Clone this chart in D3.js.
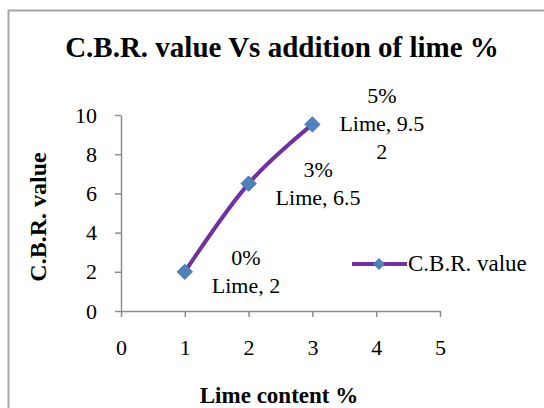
<!DOCTYPE html>
<html>
<head>
<meta charset="utf-8">
<script src="https://cdn.jsdelivr.net/npm/d3@7"></script>
<style>
  body { margin: 0; background: #fff; }
  text { font-family: "Liberation Serif", "Times New Roman", serif; fill: #000; }
</style>
</head>
<body>
<div id="chart"></div>
<script>
// data
const limeContent = [1, 2, 3]
const cbrValues = [2, 6.5, 9.52]
const pointLabels = [["0%", "Lime, 2"], ["3%", "Lime, 6.5"], ["5%", "Lime, 9.5", "2"]]
const xTicks = [0, 1, 2, 3, 4, 5]
const yTicks = [0, 2, 4, 6, 8, 10]
const seriesName = "C.B.R. value"

const width = 544, height = 408

const svg = d3.select('#chart')
  .append('svg')
  .attr('width', width)
  .attr('height', height)

// outer chart frame (runs off the right and bottom edges)
svg.append('rect')
  .attr('x', 8.5).attr('y', 10.5)
  .attr('width', 560).attr('height', 420)
  .attr('fill', 'none')
  .attr('stroke', '#a6a6a6')
  .attr('stroke-width', 2)

const x = d3.scaleLinear().domain([0, 5]).range([121, 440])
const y = d3.scaleLinear().domain([0, 10]).range([311, 115])

// title
svg.append('text')
  .attr('x', 282).attr('y', 57)
  .attr('text-anchor', 'middle')
  .style('font-size', '29px').style('font-weight', 'bold')
  .text("C.B.R. value Vs addition of lime %")

// axes
const xAxis = svg.append('g')
  .attr('transform', `translate(0,${y(0)})`)
  .call(d3.axisBottom(x).tickValues(xTicks).tickFormat(d3.format('d'))
    .tickSize(6).tickPadding(22).tickSizeOuter(0))
const yAxis = svg.append('g')
  .attr('transform', `translate(${x(0)},0)`)
  .call(d3.axisLeft(y).tickValues(yTicks).tickFormat(d3.format('d'))
    .tickSize(6).tickPadding(18).tickSizeOuter(0))

for (const g of [xAxis, yAxis]) {
  g.select('.domain').attr('stroke', '#8c8c8c').attr('stroke-width', 1.5)
  g.selectAll('.tick line').attr('stroke', '#8c8c8c').attr('stroke-width', 1.5)
  g.selectAll('.tick text')
    .style('font-family', '"Liberation Serif", serif')
    .style('font-size', '22px')
    .attr('fill', '#000')
}

// axis titles
svg.append('text')
  .attr('x', 279).attr('y', 403)
  .attr('text-anchor', 'middle')
  .style('font-size', '23px').style('font-weight', 'bold')
  .text("Lime content %")

svg.append('text')
  .attr('transform', 'translate(46,217) rotate(-90)')
  .attr('text-anchor', 'middle')
  .style('font-size', '24px').style('font-weight', 'bold')
  .text("C.B.R. value")

// smoothed line
const line = d3.line()
  .x((d, i) => x(limeContent[i]))
  .y(d => y(d))
  .curve(d3.curveCatmullRom.alpha(0))

svg.append('path')
  .datum(cbrValues)
  .attr('d', line)
  .attr('fill', 'none')
  .attr('stroke', '#7030a0')
  .attr('stroke-width', 4)

const diamond = d3.symbol().type(d3.symbolDiamond2)

svg.selectAll('.pt')
  .data(cbrValues)
  .join('path')
  .attr('class', 'pt')
  .attr('transform', (d, i) => `translate(${x(limeContent[i])},${y(d)})`)
  .attr('d', diamond.size(150))
  .attr('fill', '#4f81bd')
  .attr('stroke', '#4a7ab4')
  .attr('stroke-width', 1)

// data labels placed to the right of each point
const lineH = 28
cbrValues.forEach(function(v, i) {
  const lines = pointLabels[i]
  const g = svg.append('g')
  const tx = g.selectAll('text')
    .data(lines)
    .join('text')
    .style('font-size', '22px')
    .attr('text-anchor', 'middle')
    .attr('y', (d, j) => y(v) + (j - (lines.length - 1) / 2) * lineH + 7)
    .text(d => d)
  let w = 0
  tx.each(function() { w = Math.max(w, this.getComputedTextLength()) })
  tx.attr('x', x(limeContent[i]) + 27 + w / 2)
})

// legend
const lg = svg.append('g').attr('transform', 'translate(352,264)')
lg.append('line')
  .attr('x1', 0).attr('x2', 55)
  .attr('stroke', '#7030a0').attr('stroke-width', 4)
lg.append('path')
  .attr('transform', 'translate(27,0)')
  .attr('d', diamond.size(90))
  .attr('fill', '#4f81bd')
lg.append('text')
  .attr('x', 56).attr('y', 7)
  .style('font-size', '23px')
  .text(seriesName)
</script>
</body>
</html>
